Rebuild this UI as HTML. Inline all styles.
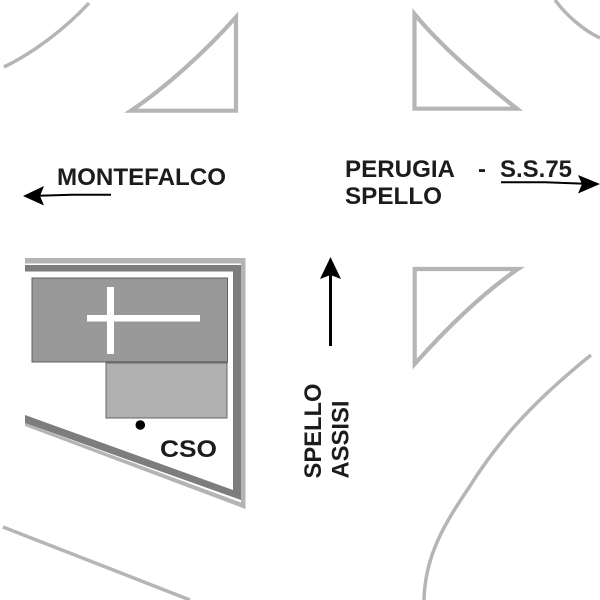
<!DOCTYPE html>
<html><head><meta charset="utf-8"><style>html,body{margin:0;padding:0;background:#fff}svg{display:block}text{font-family:"Liberation Sans",sans-serif;font-weight:bold;font-size:24px;fill:#1c1c1c}</style></head><body>
<svg width="600" height="600" viewBox="0 0 600 600" xmlns="http://www.w3.org/2000/svg">
<g fill="none" stroke="#b5b5b5" stroke-width="3.500">
<path d="M4 67C33 53 65 29 89 3"/>
<path d="M555 0C566 15 583 30 600 38"/>
<path d="M3 527L190 600"/>
<path d="M591 355C565 376 535 403 513 428C495 449 483 465 470 486C445 523 425 555 424 600"/>
</g>
<g fill="none" stroke="#b5b5b5" stroke-width="4.200">
<path d="M236 17V110.700H131C165 88 205 52 236 17Z"/>
<path d="M414.500 14V108.700H517C480 80 440 45 414.500 14Z"/>
<path d="M414.700 269H518C480 295 445 330 414.700 364Z"/>
</g>
<path d="M25 258H245.500V509L25 426V423L241 502.500V263.500H25Z" fill="#b4b4b4"/>
<path d="M25 265H241V500L25 423V415L233 490V271.500H25Z" fill="#7d7d7d"/>
<rect x="32" y="278" width="195.500" height="84" fill="#999" stroke="#5f5f5f" stroke-width="1"/>
<rect x="106" y="363" width="121" height="55" fill="#b0b0b0" stroke="#666" stroke-width="1"/>
<path d="M106 362H228" stroke="#6d6d6d" stroke-width="2"/>
<rect x="107" y="287" width="7" height="67" fill="#fff"/>
<rect x="87" y="315" width="113" height="6.500" fill="#fff"/>
<circle cx="140.300" cy="425" r="4.800" fill="#000"/>
<text x="160" y="457" textLength="57" lengthAdjust="spacingAndGlyphs">CSO</text>
<text x="57" y="185" textLength="169" lengthAdjust="spacingAndGlyphs">MONTEFALCO</text>
<text x="345" y="177" textLength="110" lengthAdjust="spacingAndGlyphs">PERUGIA</text>
<text x="478" y="177">-</text>
<text x="500" y="177" textLength="72" lengthAdjust="spacingAndGlyphs">S.S.75</text>
<text x="345" y="204" textLength="97" lengthAdjust="spacingAndGlyphs">SPELLO</text>
<text transform="translate(321 478.500) rotate(-90)" textLength="95" lengthAdjust="spacingAndGlyphs">SPELLO</text>
<text transform="translate(348.500 478.500) rotate(-90)" textLength="78" lengthAdjust="spacingAndGlyphs">ASSISI</text>
<path d="M111 194.700H72L38 195.700" stroke="#000" stroke-width="2" fill="none"/>
<path d="M23 196L44 186L40 196L44 205.500Z" fill="#000"/>
<path d="M501 182.300H545L585 183.700" stroke="#000" stroke-width="2" fill="none"/>
<path d="M600 184L578 175L582 184L578 193.500Z" fill="#000"/>
<path d="M330.500 346V272" stroke="#000" stroke-width="3"/>
<path d="M330.500 257L341 279L330.500 275L320 279Z" fill="#000"/>
</svg>
</body></html>
